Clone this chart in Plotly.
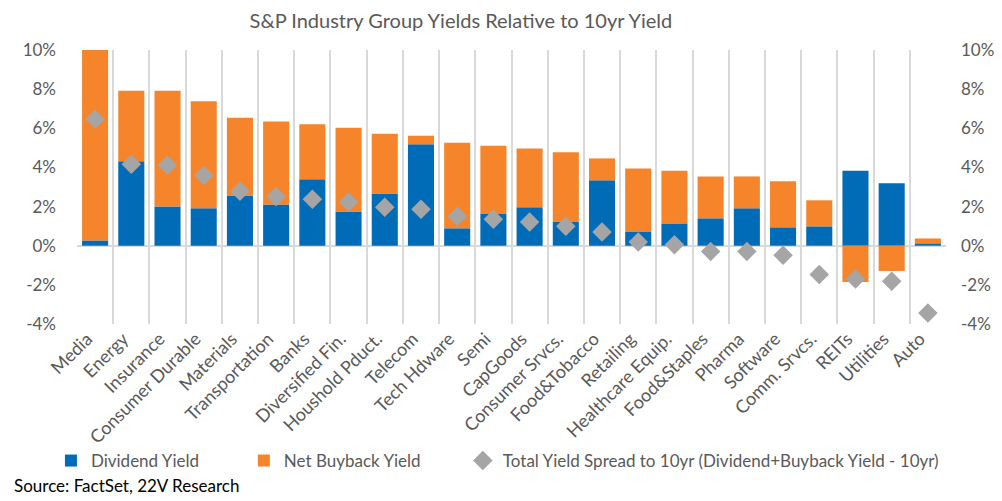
import plotly.graph_objects as go

# categorias y valores (en %)
groups = ["Media", "Energy", "Insurance", "Consumer Durable", "Materials", "Transportation",
          "Banks", "Diversified Fin.", "Houshold Pduct.", "Telecom", "Tech Hdware", "Semi",
          "CapGoods", "Consumer Srvcs.", "Food&Tobacco", "Retailing", "Healthcare Equip.",
          "Food&Staples", "Pharma", "Software", "Comm. Srvcs.", "REITs", "Utilities", "Auto"]
dividend_yield = [0.27, 4.31, 2.01, 1.91, 2.57, 2.11, 3.39, 1.75, 2.67, 5.18, 0.89, 1.65,
                  1.96, 1.24, 3.34, 0.73, 1.14, 1.40, 1.91, 0.94, 0.99, 3.83, 3.19, 0.12]
buyback_yield = [9.90, 3.61, 5.91, 5.47, 3.97, 4.24, 2.81, 4.28, 3.05, 0.44, 4.37, 3.46,
                 3.01, 3.53, 1.12, 3.22, 2.69, 2.14, 1.63, 2.35, 1.33, -1.86, -1.29, 0.25]
spread_10yr = [6.46, 4.16, 4.11, 3.59, 2.78, 2.52, 2.37, 2.23, 1.96, 1.86, 1.50, 1.35,
               1.21, 0.99, 0.70, 0.19, 0.05, -0.29, -0.29, -0.49, -1.47, -1.70, -1.82, -3.44]
y_ticks = [-4, -2, 0, 2, 4, 6, 8, 10]
y_labels = [f"{v}%" for v in y_ticks]

FONT = "Lato"
GREY_TXT = "#595959"
GRID = "#D9D9D9"

x_pos = list(range(len(groups)))
x_bounds = [i - 0.5 for i in range(len(groups) + 1)]
x_range = [-0.5, len(groups) - 0.5]

fig = go.Figure()
fig.add_trace(go.Bar(x=x_pos, y=dividend_yield, name="Dividend Yield", legend="legend",
                     marker=dict(color="#006CB7", line=dict(width=0))))
fig.add_trace(go.Bar(x=x_pos, y=buyback_yield, name="Net Buyback Yield", legend="legend2",
                     marker=dict(color="#F5842A", line=dict(width=0))))
fig.add_trace(go.Scatter(x=x_pos, y=spread_10yr, mode="markers", legend="legend3",
                         name="Total Yield Spread to 10yr (Dividend+Buyback Yield - 10yr)",
                         marker=dict(symbol="diamond", size=15, color="#A5A5A5")))
# traza invisible para el eje derecho y las etiquetas del eje x
fig.add_trace(go.Scatter(x=x_pos, y=spread_10yr, xaxis="x2", yaxis="y2", mode="markers",
                         marker=dict(opacity=0), showlegend=False, hoverinfo="skip"))

legend_style = dict(orientation="h", y=-0.50, yanchor="middle", xanchor="left",
                    font=dict(family=FONT, size=17, color=GREY_TXT), bgcolor="rgba(0,0,0,0)")

fig.update_layout(
    width=1002, height=501,
    margin=dict(l=69, r=64, t=42, b=185),
    paper_bgcolor="white", plot_bgcolor="white",
    barmode="relative", bargap=0.28,
    font=dict(family=FONT, size=16, color=GREY_TXT),
    title=dict(text="S&P Industry Group Yields Relative to 10yr Yield", x=0.452, xanchor="center",
               y=0.975, yanchor="middle", font=dict(family=FONT, size=20, color=GREY_TXT)),
    # eje principal: solo las lineas verticales entre categorias
    xaxis=dict(range=x_range, tickvals=x_bounds, showticklabels=False, showgrid=True,
               gridcolor=GRID, gridwidth=2, ticks="", showline=False, zeroline=False),
    # eje superpuesto: nombres de las categorias
    xaxis2=dict(range=x_range, tickvals=x_pos, ticktext=groups, overlaying="x", side="bottom",
                anchor="y2", showgrid=False, tickangle=-45, ticks="", showline=False, zeroline=False,
                ticklabelshift=-8, tickfont=dict(family=FONT, size=18, color=GREY_TXT)),
    yaxis=dict(range=[-4, 10], tickvals=y_ticks, ticktext=y_labels, showgrid=False,
               zeroline=True, zerolinecolor=GRID, zerolinewidth=2, showline=False,
               ticks="", ticklabelstandoff=20, tickfont=dict(family=FONT, size=17, color=GREY_TXT)),
    yaxis2=dict(range=[-4, 10], tickvals=y_ticks, ticktext=y_labels, overlaying="y",
                side="right", anchor="x2", showgrid=False, zeroline=False, showline=False, ticks="",
                ticklabelstandoff=14, tickfont=dict(family=FONT, size=17, color=GREY_TXT)),
    legend=dict(legend_style, x=-0.030),
    legend2=dict(legend_style, x=0.192),
    legend3=dict(legend_style, x=0.444),
    showlegend=True,
)

fig.add_annotation(text="Source: FactSet, 22V Research", xref="paper", yref="paper",
                   x=-0.075, y=-0.588, xanchor="left", yanchor="middle", showarrow=False,
                   font=dict(family=FONT, size=17, color="black"))

fig.write_html("out.html")
